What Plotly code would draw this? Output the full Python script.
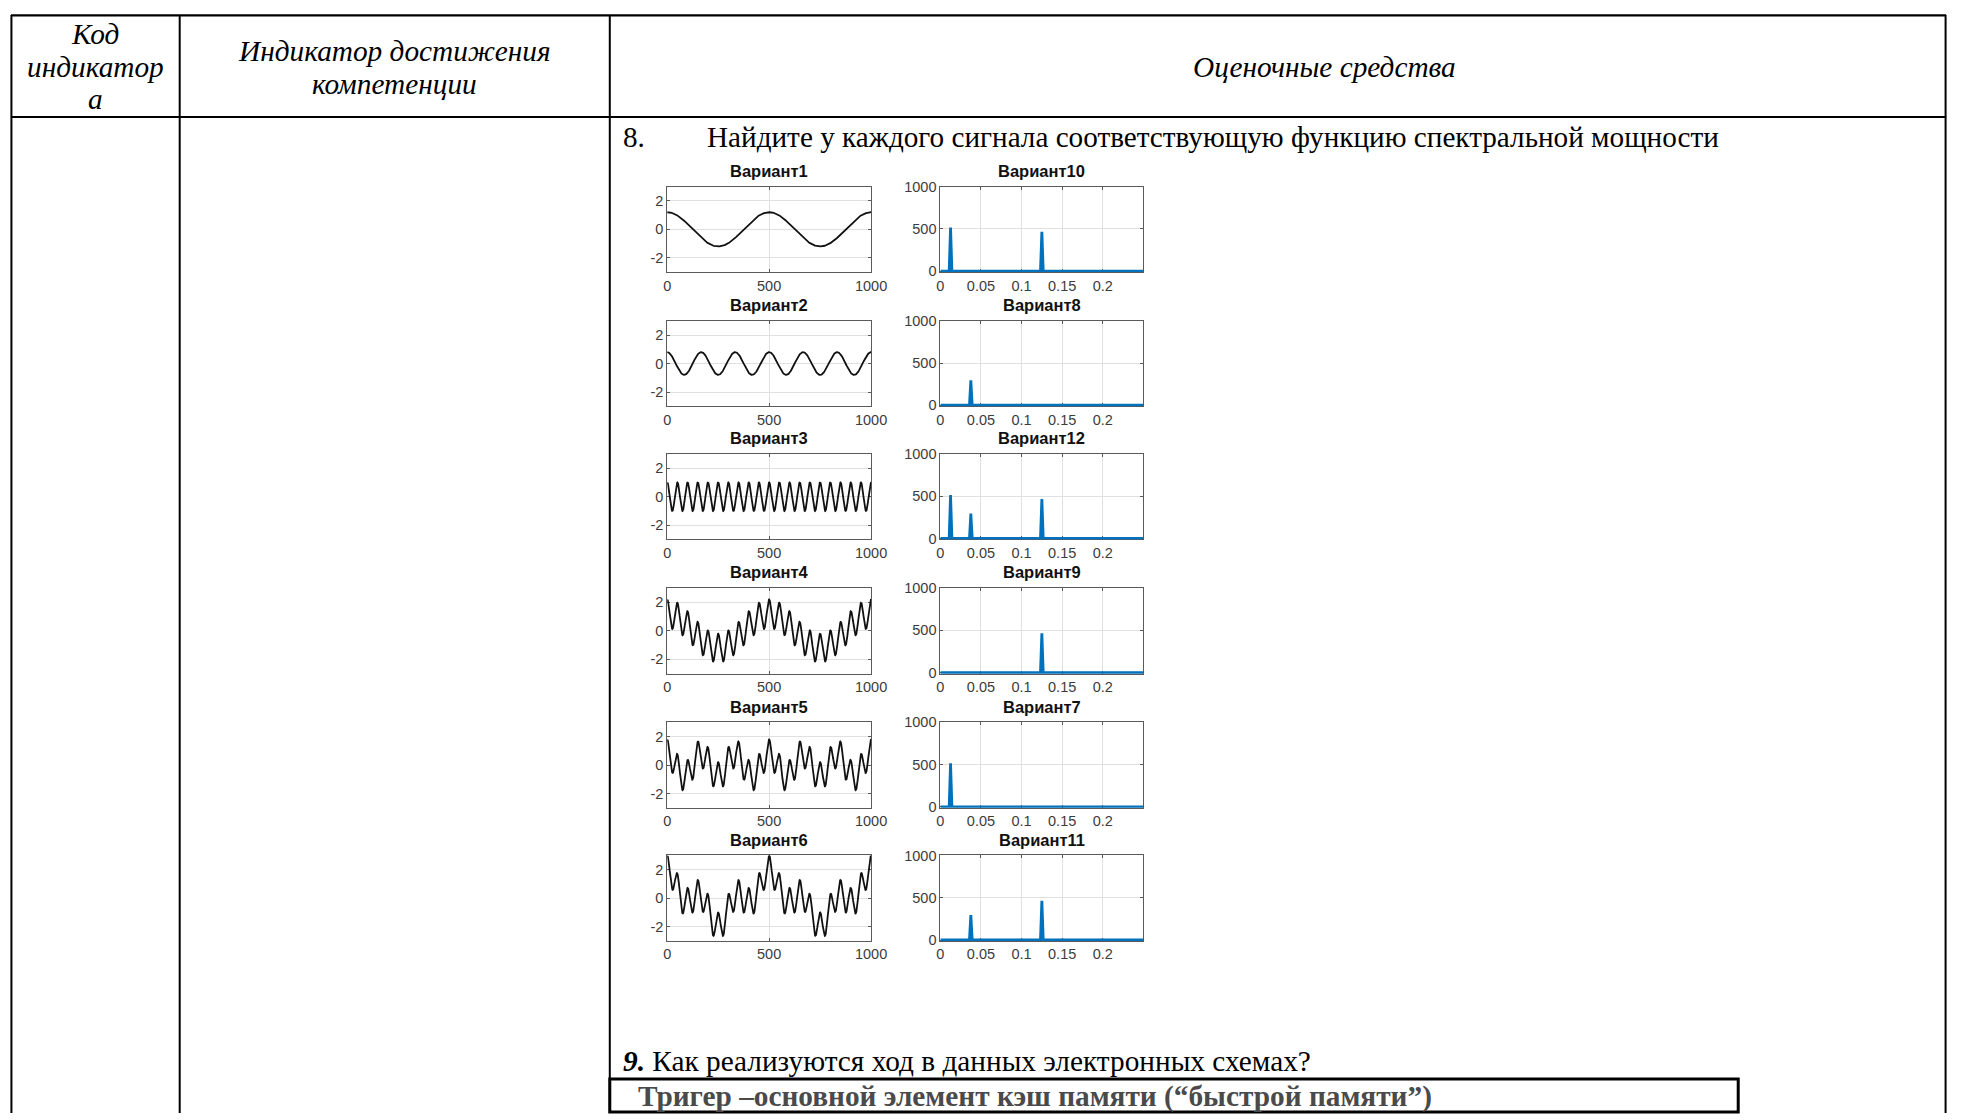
import numpy as np
import plotly.graph_objects as go

W, H = 1970, 1120

# ---------------- data ----------------
# time-domain signals: each "Вариант" is a sum of cosine components
comp_amplitude = [1.2, 0.8, 1.0]          # amplitude of each component
comp_period = [500.0, 500.0 / 3.0, 50.0]  # period in samples
signal_titles = ["Вариант1", "Вариант2", "Вариант3", "Вариант4", "Вариант5", "Вариант6"]
signal_components = [[0], [1], [2], [0, 2], [1, 2], [0, 1, 2]]
time_samples = np.arange(0, 1001)

# spectra: spikes at three frequencies
spectrum_titles = ["Вариант10", "Вариант8", "Вариант12", "Вариант9", "Вариант7", "Вариант11"]
peak_freqs = [0.0125, 0.0375, 0.125]
peak_heights = [515, 295, 465]
spectrum_peaks = [[0, 2], [1], [0, 1, 2], [2], [0], [1, 2]]

time_ticks = [0, 500, 1000]
time_tick_labels = ["0", "500", "1000"]
amp_ticks = [-2, 0, 2]
amp_tick_labels = ["-2", "0", "2"]
freq_ticks = [0, 0.05, 0.1, 0.15, 0.2]
freq_tick_labels = ["0", "0.05", "0.1", "0.15", "0.2"]
power_ticks = [0, 500, 1000]
power_tick_labels = ["0", "500", "1000"]

# ---------------- layout helpers (page pixel -> paper) ----------------
def px(x):
    return x / W

def py(y):
    return 1 - y / H

LEFT_X = (670, 876)
RIGHT_X = (946, 1151)
ROW_TOPS = [181, 317, 452, 588, 724, 859]
BOX_H = 86.7

fig = go.Figure()
annotations = []
shapes = []

tick_font = dict(family="Liberation Sans, Arial", size=14.5, color="#3c3c3c")
title_font = dict(family="Liberation Sans, Arial", size=16.5, color="#111111")

def axis_common():
    return dict(
        showline=True, linecolor="#5a5a5a", linewidth=1, mirror="ticks",
        ticks="inside", ticklen=3, tickcolor="#5a5a5a",
        showgrid=True, gridcolor="#e0e0e0", gridwidth=1,
        zeroline=False, tickfont=tick_font, layer="below traces",
        fixedrange=True,
    )

layout_axes = {}
for r in range(6):
    top = ROW_TOPS[r]
    ydom = [py(top + BOX_H), py(top)]
    # ---- signal subplot ----
    k = 2 * r + 1
    sig = np.zeros_like(time_samples, dtype=float)
    for c in signal_components[r]:
        sig += comp_amplitude[c] * np.cos(2 * np.pi * time_samples / comp_period[c])
    fig.add_trace(go.Scatter(x=time_samples, y=sig, mode="lines",
                             line=dict(color="#111111", width=1.8),
                             xaxis=f"x{k}", yaxis=f"y{k}", hoverinfo="skip"))
    xa = axis_common()
    xa.update(domain=[px(LEFT_X[0]), px(LEFT_X[1])], range=[0, 1000],
              tickvals=time_ticks, ticktext=time_tick_labels, anchor=f"y{k}")
    ya = axis_common()
    ya.update(domain=ydom, range=[-3, 3], tickvals=amp_ticks,
              ticktext=amp_tick_labels, anchor=f"x{k}")
    layout_axes[f"xaxis{k}"] = xa
    layout_axes[f"yaxis{k}"] = ya
    annotations.append(dict(text=f"<b>{signal_titles[r]}</b>", x=px((LEFT_X[0] + LEFT_X[1]) / 2),
                            y=py(top - 16), xref="paper", yref="paper", showarrow=False,
                            xanchor="center", yanchor="middle", font=title_font))

    # ---- spectrum subplot ----
    k = 2 * r + 2
    fx = [0.0]
    fy = [0.0]
    for p in sorted(spectrum_peaks[r], key=lambda i: peak_freqs[i]):
        f = peak_freqs[p]
        fx += [f - 0.0017, f, f + 0.0017]
        fy += [0.0, peak_heights[p], 0.0]
    fx.append(0.25)
    fy.append(0.0)
    fig.add_trace(go.Scatter(x=fx, y=fy, mode="lines",
                             line=dict(color="#0072BD", width=2.8),
                             xaxis=f"x{k}", yaxis=f"y{k}", hoverinfo="skip"))
    xa = axis_common()
    xa.update(domain=[px(RIGHT_X[0]), px(RIGHT_X[1])], range=[0, 0.25],
              tickvals=freq_ticks, ticktext=freq_tick_labels, anchor=f"y{k}")
    ya = axis_common()
    ya.update(domain=ydom, range=[-12, 1000], tickvals=power_ticks,
              ticktext=power_tick_labels, anchor=f"x{k}")
    layout_axes[f"xaxis{k}"] = xa
    layout_axes[f"yaxis{k}"] = ya
    annotations.append(dict(text=f"<b>{spectrum_titles[r]}</b>", x=px((RIGHT_X[0] + RIGHT_X[1]) / 2),
                            y=py(top - 16), xref="paper", yref="paper", showarrow=False,
                            xanchor="center", yanchor="middle", font=title_font))

# ---------------- document table ----------------
def line(x0, y0, x1, y1, w=2):
    shapes.append(dict(type="line", xref="paper", yref="paper",
                       x0=px(x0), y0=py(y0), x1=px(x1), y1=py(y1),
                       line=dict(color="black", width=w)))

line(7, 7.5, 1962, 7.5, w=2.2)
line(7, 110.5, 1962, 110.5)
for xv in [7.5, 177.5, 612, 1961.5]:
    line(xv, 7, xv, 1120)
shapes.append(dict(type="rect", xref="paper", yref="paper",
                   x0=px(612), y0=py(1119), x1=px(1752), y1=py(1085.5),
                   line=dict(color="black", width=3)))

serif = "Liberation Serif, Times New Roman, serif"

def text(t, x, y, size=29.3, color="black", xanchor="center"):
    annotations.append(dict(text=t, x=px(x), y=py(y), xref="paper", yref="paper",
                            showarrow=False, xanchor=xanchor, yanchor="middle",
                            font=dict(family=serif, size=size, color=color)))

text("<i>Код</i>", 92, 26)
text("<i>индикатор</i>", 92, 60)
text("<i>а</i>", 92, 92)
text("<i>Индикатор достижения</i>", 395, 44)
text("<i>компетенции</i>", 395, 77)
text("<i>Оценочные средства</i>", 1334, 60)
text("8.", 623, 131, size=29.2, xanchor="left")
text("Найдите у каждого сигнала соответствующую функцию спектральной мощности", 708, 131,
     size=29.2, xanchor="left")
text("<b><i>9.</i></b> Как реализуются ход в данных электронных схемах?", 623, 1067,
     xanchor="left")
text("<b>Тригер –основной элемент кэш памяти (“быстрой памяти”)</b>", 638, 1103,
     color="#4a4a4a", xanchor="left")

fig.update_layout(
    margin=dict(l=0, r=0, t=0, b=0), autosize=True,
    paper_bgcolor="white", plot_bgcolor="white", showlegend=False,
    annotations=annotations, shapes=shapes, **layout_axes,
)

# the plot div is pinned to the page's top-left corner at exactly 1970x1120
fig.write_html("out.html", config={"displayModeBar": False},
               default_width=f"{W}px;position:absolute;left:0;top:0",
               default_height=f"{H}px")
